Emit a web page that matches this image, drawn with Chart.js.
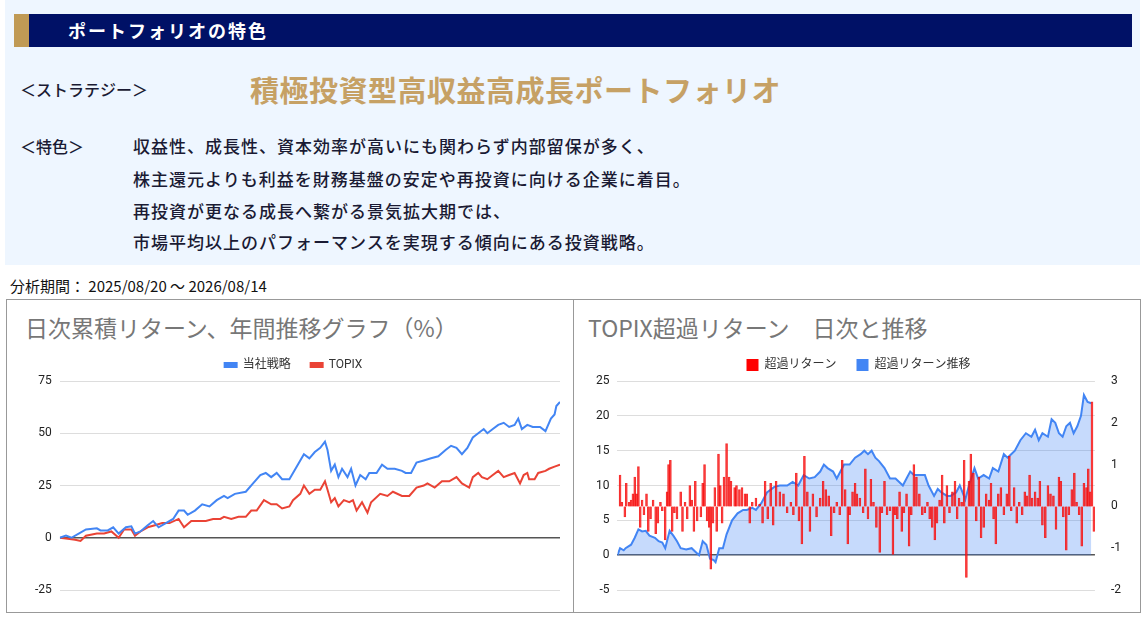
<!DOCTYPE html>
<html><head><meta charset="utf-8">
<script src="https://cdn.jsdelivr.net/npm/chart.js@4/dist/chart.umd.min.js"></script>
<style>
body{margin:0;width:1146px;height:618px;background:#fff;font-family:"Noto Sans CJK JP",sans-serif;position:relative;overflow:hidden}
.panel{position:absolute;left:5px;top:0;width:1135px;height:265px;background:#eef6ff}
.hdr{position:absolute;left:14px;top:14px;width:1118px;height:33px;background:#001166}
.gold{position:absolute;left:14px;top:14px;width:15px;height:33px;background:#c09a55}
.hdr span{position:absolute;left:54px;top:3px;color:#fff;font-size:18px;font-weight:bold;letter-spacing:2px}
.t{position:absolute;color:#1a1a33;font-size:16px;font-weight:500;white-space:nowrap}
.b{font-size:17px;letter-spacing:1px}
.box{position:absolute;border:1px solid #999;background:#fff}
.ct{position:absolute;font-size:23px;color:#777;white-space:nowrap}
</style></head><body>
<div class="panel"></div>
<div class="hdr"><span>ポートフォリオの特色</span></div><div class="gold"></div>
<div class="t" style="left:20px;top:77px">＜ストラテジー＞</div>
<div class="t" style="left:250px;top:68px;font-size:29px;font-weight:bold;color:#c6a165;letter-spacing:0.5px">積極投資型高収益高成長ポートフォリオ</div>
<div class="t" style="left:20px;top:134px">＜特色＞</div>
<div class="t b" style="left:133px;top:133px">収益性、成長性、資本効率が高いにも関わらず内部留保が多く、</div>
<div class="t b" style="left:133px;top:166px">株主還元よりも利益を財務基盤の安定や再投資に向ける企業に着目。</div>
<div class="t b" style="left:133px;top:198px">再投資が更なる成長へ繋がる景気拡大期では、</div>
<div class="t b" style="left:133px;top:229px">市場平均以上のパフォーマンスを実現する傾向にある投資戦略。</div>
<div class="t" style="left:10px;top:275px;font-size:15px;font-weight:normal;color:#111">分析期間： 2025/08/20 ～ 2026/08/14</div>
<div class="box" style="left:6px;top:299px;width:566px;height:312px"></div>
<div class="box" style="left:573px;top:299px;width:566px;height:312px"></div>
<div class="ct" style="left:25px;top:310px">日次累積リターン、年間推移グラフ（%）</div>
<div class="ct" style="left:588px;top:310px">TOPIX超過リターン　日次と推移</div>
<div style="position:absolute;left:8px;top:335px;width:562px;height:274px"><canvas id="c1"></canvas></div>
<div style="position:absolute;left:575px;top:335px;width:562px;height:274px"><canvas id="c2"></canvas></div>
<script>
// timeline positions (trading-day axis units) and values
const tA=[0,17,32,52,72,102,112,132,147,162,182,197,207,222,242,257,272,292,312,327,342,352,372,392,412,432,452,462,482,512,532,552,567,582,597,612,632,652,672,687,702,717,730,737,747,757,767,777,792,802,814,827,842,852,872,887,902,922,942,952,967,982,1002,1022,1042,1062,1077,1092,1107,1122,1137,1152,1167,1177,1192,1207,1222,1237,1252,1262,1272,1287,1302,1322,1337,1352,1362,1367,1377];
const strategy=[0,1,0,2,4,4.5,3.5,3.5,5,2,5,5.5,2,3,6,8,5,7,9,13,13,11,13,16,15,18,20,19,21,22,26,30,31,29,31,28,28,34,40,38,41,43,46,42,32,35,29,33,29,33,25,30,28,31,31,35,33,33,32,31,31,36,37,38,39,42,44,43,40,43,48,50,52,50,52,54,55,53,54,57,52,54,53,53,51,57,59,63,65];
const tB=[0,22,42,57,72,102,122,142,162,177,197,207,222,242,262,282,302,327,342,362,382,402,422,442,452,472,492,512,527,542,562,582,597,612,632,642,662,672,687,702,717,730,737,747,757,767,782,797,807,817,832,847,857,882,902,917,942,962,982,1002,1012,1032,1052,1072,1092,1107,1127,1137,1152,1162,1177,1192,1207,1222,1237,1252,1267,1277,1287,1292,1307,1317,1337,1347,1362,1377];
const topix=[0,-0.5,-1,-1.5,1,2,2,3,0,4,4,1,3,5,6,7,7,9,5,8,8,8,9,9,10,9,10,10,13,13,18,16,16,14,15,18,21,25,21,23,23,27,23,17,19,15,18,17,18,13,17,12,17,21,20,22,20,20,24,25,26,24,27,27,29,26,24,29,31,29,28,30,32,29,30,31,26,30,31,28,28,31,32,33,34,35];
const tC=[0,7,17,22,37,47,57,67,77,87,102,112,122,130,142,152,162,172,187,202,212,222,232,242,252,262,267,277,287,297,312,327,342,352,367,377,392,407,427,442,462,477,492,507,522,537,552,562,572,587,597,607,617,632,647,662,672,682,692,702,712,727,742,757,767,777,787,797,807,822,837,847,862,872,882,897,907,922,932,947,957,972,982,997,1012,1022,1037,1052,1062,1072,1082,1097,1112,1127,1137,1147,1157,1172,1182,1192,1202,1212,1222,1232,1242,1252,1262,1270,1280,1290,1297];
const excessCum=[0,1,0.7,1,1.5,2.5,3.7,3.4,3.5,2.8,2.5,2,1.8,1,3.5,2.8,2,1,0.8,1,0.5,0,2,1.5,-0.5,-0.7,-1,1,1,3,5,6,6.5,6.5,6.8,6.5,7.5,9,9.8,10,10,10.5,10,11.5,11,11.2,12,13,12.5,12,11,12,13,13,14,14.5,15,14.5,15,14,13.5,12.5,11,11,10.5,10,11,12,11.5,11.5,11.5,10,8.5,9.5,9,8.5,8.5,9,10,8,10,12.5,11,11.5,11,12.5,12,14.5,14,14.5,15,16.5,17.5,17,18,16.5,17.5,17,19.5,19,17.5,17,18.5,19,17.5,18.5,20,23,22,21.8];
const tD=[7,12,20,24,32,37,42,47,52,57,62,67,72,79,84,90,97,104,110,117,122,130,135,139,144,149,155,162,172,177,184,190,197,202,208,212,217,227,232,237,244,250,254,260,265,270,275,280,285,290,297,304,309,319,324,332,339,347,352,360,367,377,387,395,402,409,417,424,432,442,452,462,472,479,487,494,502,509,517,524,532,542,552,560,567,575,582,590,597,605,612,620,627,632,640,647,652,660,669,675,682,690,697,705,714,720,727,734,742,750,756,762,768,774,780,787,794,800,807,814,822,830,837,844,850,857,864,870,877,884,890,897,904,912,919,925,930,937,944,950,957,962,969,977,984,990,997,1004,1012,1017,1024,1030,1037,1044,1052,1060,1067,1072,1080,1087,1094,1102,1109,1115,1122,1129,1137,1144,1150,1157,1165,1172,1179,1187,1194,1202,1207,1214,1222,1229,1237,1244,1250,1257,1264,1270,1277,1282,1287,1292,1297];
const excessDaily=[0.75,0.1,-0.25,0.55,0.1,0.15,0.3,0.7,0.3,0.95,-0.5,0.15,-0.2,0.3,-0.6,-0.3,0.15,-0.65,-0.4,0.1,-0.1,-0.8,0.35,1,1.1,-0.6,-0.15,-0.3,0.35,-0.6,0.1,-0.3,0.5,0.15,-0.6,0.6,-0.35,-0.25,0.55,1,-0.35,-0.5,-1.5,-0.4,0.45,-0.6,1.25,0.5,-0.4,0.7,1.5,0.7,0.6,0.45,0.5,0.4,0.45,0.3,0.3,-0.4,0.1,0.2,0.05,-0.4,0.6,-0.3,0.55,-0.45,0.6,0.35,0.3,-0.15,0.1,-0.2,0.8,-0.35,-0.9,1.2,0.35,-0.6,0.3,-0.25,0.2,0.6,0.4,0.25,-0.7,-0.15,0.1,-0.2,1.1,0.4,-0.9,-0.2,0.35,0.55,0.3,0.2,-0.15,0.9,-0.3,0.65,0.1,-0.5,-1.1,-0.15,0.6,-0.2,-0.1,-1.15,-0.2,-0.3,0.35,-0.6,-0.15,0.3,-0.95,-0.2,1,0.7,0.3,-0.2,-0.15,0.1,-0.3,-0.5,-0.8,-0.4,0.15,0.75,-0.4,0.5,-0.15,0.35,0.6,-0.3,0.2,0.1,1.1,-1.7,0.6,1.25,0.8,-0.35,0.7,-0.75,-0.5,0.3,0.15,0.55,-0.3,-0.9,0.3,0.45,-0.2,0.3,1.2,-0.1,0.45,-0.4,0.1,-0.2,0.35,0.25,0.75,0.2,0.35,0.2,0.6,-0.45,-0.75,0.5,0.3,0.25,-0.55,0.7,0.6,-0.25,-1.05,-0.2,0.4,0.8,0.1,-0.2,-0.95,0.55,0.45,0.9,0.35,2.5,-0.6,-0.35,-0.1];
const ticksL=[-25,0,25,50,75], ticksR1=[-5,0,5,10,15,20,25], ticksR2=[-2,-1,0,1,2,3];
const zip=(a,b)=>a.map((x,i)=>({x:x,y:b[i]}));
Chart.defaults.font.family='Roboto, "Noto Sans CJK JP", sans-serif';
Chart.defaults.animation=false;
const grid={color:c=>c.tick&&c.tick.value===0?'#555':'#ddd',lineWidth:c=>c.tick&&c.tick.value===0?1.5:1,drawTicks:false};
new Chart(c1,{type:'line',data:{datasets:[
 {label:'当社戦略',data:zip(tA,strategy),borderColor:'#4285f4',backgroundColor:'#4285f4',borderWidth:2,pointRadius:0,tension:0},
 {label:'TOPIX',data:zip(tB,topix),borderColor:'#ea4335',backgroundColor:'#ea4335',borderWidth:2,pointRadius:0,tension:0}]},
 options:{responsive:true,maintainAspectRatio:false,layout:{padding:{left:19,right:10,bottom:19,top:4}},
 plugins:{legend:{labels:{boxWidth:12,boxHeight:4,font:{size:12},color:'#333',padding:20}},tooltip:{enabled:false}},
 scales:{x:{type:'linear',min:0,max:1377,display:false},
 y:{min:-25,max:75,afterBuildTicks:a=>{a.ticks=ticksL.map(v=>({value:v}))},border:{display:false},grid:grid,ticks:{color:'#222',font:{size:12},padding:8}}}}});
new Chart(c2,{data:{datasets:[
 {type:'line',label:'超過リターン推移',data:zip(tC,excessCum),yAxisID:'y',borderColor:'#4285f4',backgroundColor:'rgba(66,133,244,0.3)',fill:'origin',borderWidth:2,pointRadius:0,tension:0,order:1},
 {type:'bar',label:'超過リターン',data:zip(tD,excessDaily),yAxisID:'y2',backgroundColor:'rgba(255,40,40,0.55)',borderColor:'rgba(240,0,0,0.8)',borderWidth:0.6,barThickness:2,order:0}]},
 options:{responsive:true,maintainAspectRatio:false,layout:{padding:{left:13,bottom:19,right:8,top:4}},
 plugins:{legend:{labels:{boxWidth:12,boxHeight:12,font:{size:12},color:'#333',padding:20,
   generateLabels:ch=>[1,0].map(i=>({text:ch.data.datasets[i].label,fillStyle:i?'#ff0000':'#4285f4',strokeStyle:'transparent',lineWidth:0,datasetIndex:i,fontColor:'#333'}))}},tooltip:{enabled:false}},
 scales:{x:{type:'linear',min:0,max:1300,display:false,offset:false},
 y:{position:'left',min:-5,max:25,afterBuildTicks:a=>{a.ticks=ticksR1.map(v=>({value:v}))},border:{display:false},grid:grid,ticks:{color:'#222',font:{size:12},padding:8}},
 y2:{position:'right',min:-2,max:3,afterBuildTicks:a=>{a.ticks=ticksR2.map(v=>({value:v}))},border:{display:false},grid:{display:false},ticks:{color:'#222',font:{size:12},padding:8}}}}});
</script></body></html>
